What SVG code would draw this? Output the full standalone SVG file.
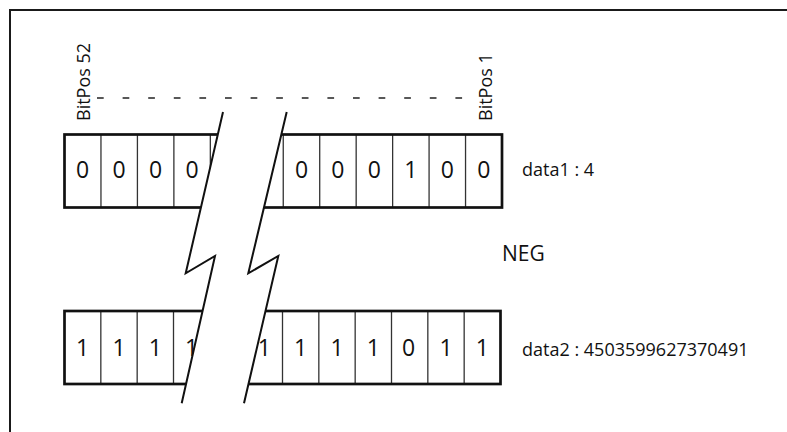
<svg xmlns="http://www.w3.org/2000/svg" width="787" height="432" viewBox="0 0 787 432">
<style>
.frame{fill:none;stroke:#1a1a1a;stroke-width:2}
.box{fill:none;stroke:#111;stroke-width:2.7}
.div{stroke:#333;stroke-width:1.3}
.dig{font-family:"Open Sans","Noto Sans",sans-serif;font-size:23px;fill:#111;text-anchor:middle}
.lbl{font-family:"Open Sans","Noto Sans",sans-serif;font-size:18px;fill:#111}
.brk{fill:none;stroke:#111;stroke-width:2;stroke-linejoin:miter}
.dash{stroke:#222;stroke-width:1.3;stroke-dasharray:6.7 18.9;fill:none}
</style>
<rect width="787" height="432" fill="#fff"/>
<path id="frame" class="frame" d="M10,440 V10 H800"/>

<g id="data1">
  <rect x="64.5" y="134.5" width="437.5" height="73" fill="#fff"/>
  <g class="div">
    <line x1="100.96" y1="134.5" x2="100.96" y2="207.5"/>
    <line x1="137.42" y1="134.5" x2="137.42" y2="207.5"/>
    <line x1="173.88" y1="134.5" x2="173.88" y2="207.5"/>
    <line x1="210.33" y1="134.5" x2="210.33" y2="207.5"/>
    <line x1="246.79" y1="134.5" x2="246.79" y2="207.5"/>
    <line x1="283.25" y1="134.5" x2="283.25" y2="207.5"/>
    <line x1="319.71" y1="134.5" x2="319.71" y2="207.5"/>
    <line x1="356.17" y1="134.5" x2="356.17" y2="207.5"/>
    <line x1="392.63" y1="134.5" x2="392.63" y2="207.5"/>
    <line x1="429.08" y1="134.5" x2="429.08" y2="207.5"/>
    <line x1="465.54" y1="134.5" x2="465.54" y2="207.5"/>
  </g>
  <rect class="box" x="64.5" y="134.5" width="437.5" height="73"/>
  <g class="dig">
    <text x="82.7" y="178.3">0</text>
    <text x="119.2" y="178.3">0</text>
    <text x="155.6" y="178.3">0</text>
    <text x="192.1" y="178.3">0</text>
    <text x="301.5" y="178.3">0</text>
    <text x="337.9" y="178.3">0</text>
    <text x="374.4" y="178.3">0</text>
    <text x="410.9" y="178.3">1</text>
    <text x="447.3" y="178.3">0</text>
    <text x="483.8" y="178.3">0</text>
  </g>
</g>

<g id="data2">
  <rect x="64.5" y="311" width="436" height="73" fill="#fff"/>
  <g class="div">
    <line x1="100.83" y1="311" x2="100.83" y2="384"/>
    <line x1="137.17" y1="311" x2="137.17" y2="384"/>
    <line x1="173.5" y1="311" x2="173.5" y2="384"/>
    <line x1="209.83" y1="311" x2="209.83" y2="384"/>
    <line x1="246.17" y1="311" x2="246.17" y2="384"/>
    <line x1="282.5" y1="311" x2="282.5" y2="384"/>
    <line x1="318.83" y1="311" x2="318.83" y2="384"/>
    <line x1="355.17" y1="311" x2="355.17" y2="384"/>
    <line x1="391.5" y1="311" x2="391.5" y2="384"/>
    <line x1="427.83" y1="311" x2="427.83" y2="384"/>
    <line x1="464.17" y1="311" x2="464.17" y2="384"/>
  </g>
  <rect class="box" x="64.5" y="311" width="436" height="73"/>
  <g class="dig">
    <text x="82.7" y="355.7">1</text>
    <text x="119" y="355.7">1</text>
    <text x="155.3" y="355.7">1</text>
    <text x="191.7" y="355.7">1</text>
    <text x="264.3" y="355.7">1</text>
    <text x="300.7" y="355.7">1</text>
    <text x="337" y="355.7">1</text>
    <text x="373.3" y="355.7">1</text>
    <text x="408.5" y="355.7">0</text>
    <text x="446" y="355.7">1</text>
    <text x="482.3" y="355.7">1</text>
  </g>
</g>

<g id="break">
  <polygon fill="#fff" points="223,112 185.7,273.3 215,256 181.7,403.3 244,403.3 278.3,256 248.3,273.3 286.7,112"/>
  <polyline class="brk" points="223,112 185.7,273.3 215,256 181.7,403.3"/>
  <polyline class="brk" points="286.7,112 248.3,273.3 278.3,256 244,403.3"/>
</g>

<g id="connectors">
  <line class="dash" x1="97" y1="98" x2="467.5" y2="98"/>
</g>

<g id="labels">
  <text class="lbl" transform="translate(89.5,121) rotate(-90)">BitPos 52</text>
  <text class="lbl" transform="translate(491.5,121) rotate(-90)">BitPos 1</text>
  <text class="lbl" x="522" y="176">data1 : 4</text>
  <text class="lbl" x="502" y="261" style="font-size:21px">NEG</text>
  <text class="lbl" x="522" y="356">data2 : 4503599627370491</text>
</g>
</svg>
